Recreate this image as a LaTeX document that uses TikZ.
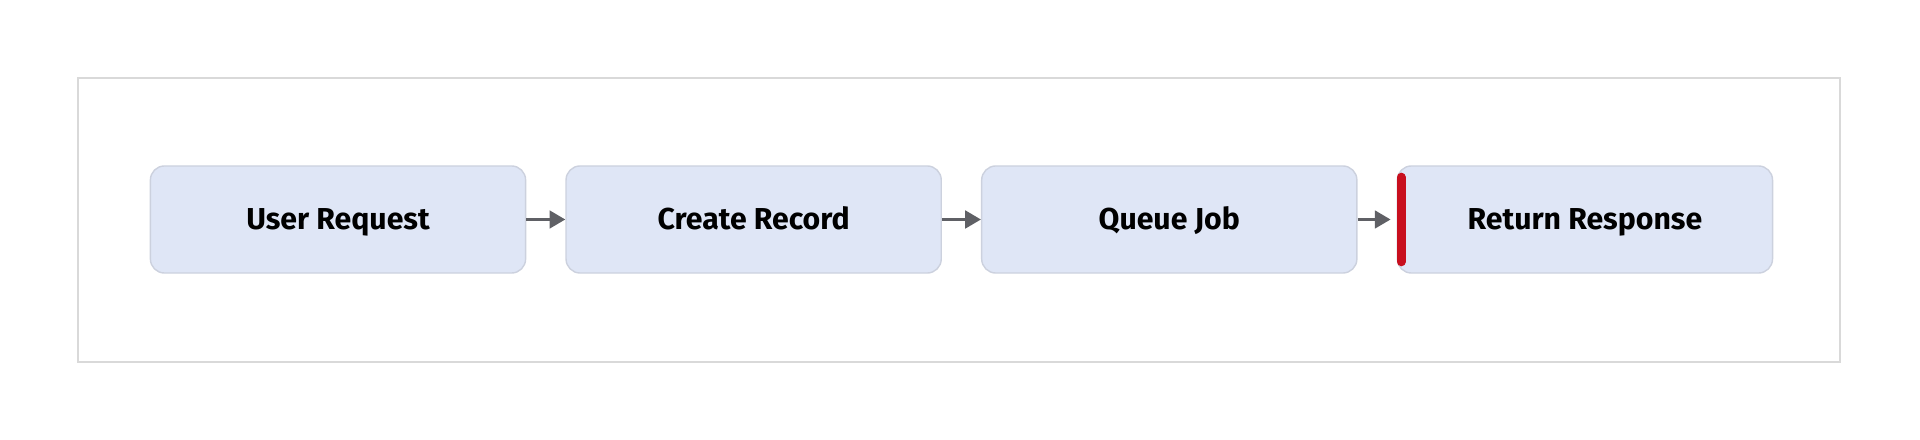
\documentclass[tikz,border=0pt]{standalone}
\usepackage{fontspec}
\setmainfont{Fira Sans}
\usetikzlibrary{positioning, arrows.meta}
\definecolor{stepfill}{HTML}{DFE6F6}
\definecolor{framegray}{HTML}{D9D9D9}
\definecolor{arrowgray}{HTML}{5F6065}
\definecolor{barred}{HTML}{C80F1E}
\begin{document}
\begin{tikzpicture}[
        x = 0.01cm, y = -0.01cm,
        > = {Triangle[length=4.5pt, width=5pt]}, % arrow head style
        stage/.style = {fill = stepfill, draw = stepfill!80!gray, rounded corners = 4pt,
            minimum width = 3.75cm, minimum height = 1.07cm, inner sep = 0pt,
            text height = 1.45ex, text depth = 0.35ex,
            font = \fontsize{8.6}{10}\selectfont\bfseries},
        link/.style = {->, draw = arrowgray, line width = 0.9pt}
    ]

    \useasboundingbox (0,0) rectangle (1920,440);
    \draw[framegray, line width = 0.4pt] (78,78) rectangle (1840,362);

    \node[stage] (user) at (338,219.5) {User Request};
    \node[stage, right = 0.39cm of user] (create) {Create Record};
    \node[stage, right = 0.39cm of create] (queue) {Queue Job};
    \node[stage, right = 0.39cm of queue] (return) {Return Response};

    % red marker on the last stage
    \coordinate (bartop) at ([xshift=0.045cm, yshift=-0.12cm] return.north west);
    \coordinate (barbot) at ([xshift=0.045cm, yshift=0.12cm] return.south west);
    \draw[barred, line width = 2.6pt, line cap = round] (bartop) -- (barbot);

    \draw[link] (user) -- (create);
    \draw[link] (create) -- (queue);
    \draw[link] (queue.east) -- ([xshift=-0.06cm] return.west);

\end{tikzpicture}
\end{document}
